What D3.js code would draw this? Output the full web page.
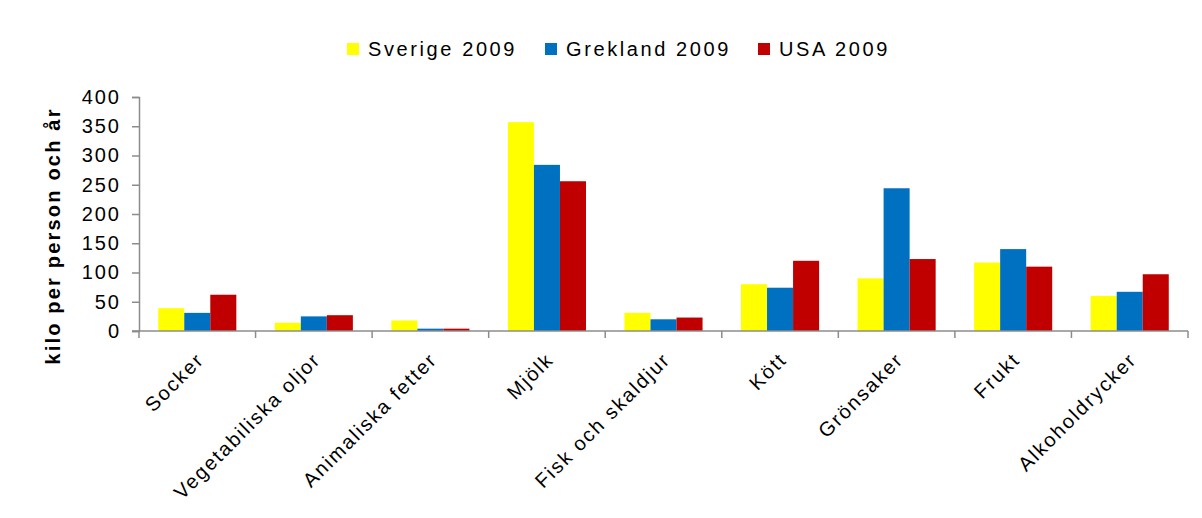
<!DOCTYPE html>
<html><head><meta charset="utf-8">
<script src="https://cdn.jsdelivr.net/npm/d3@7"></script>
<style>
body{margin:0;background:#fff;}
text{font-family:"Liberation Sans",Arial,sans-serif;fill:#000;}
</style></head>
<body>
<svg id="c" width="1202" height="518"></svg>
<script>
const categories = ["Socker","Vegetabiliska oljor","Animaliska fetter","Mjölk","Fisk och skaldjur","Kött","Grönsaker","Frukt","Alkoholdrycker"];
const seriesNames = ["Sverige 2009","Grekland 2009","USA 2009"];
const sverige = [39, 14, 18, 357, 31, 80, 90, 117, 60];
const grekland = [31, 25, 4, 284, 20, 74, 244, 140, 67];
const usa = [62, 27, 4, 256, 23, 120, 123, 110, 97];
const colors = ["#FFFF00","#0070C0","#C00000"];
const yTicks = [0,50,100,150,200,250,300,350,400];
const yTitle = "kilo per person och år";

(function(){
const seriesValues = [sverige, grekland, usa];
const svg = d3.select("#c");
const pLeft = 139, pRight = 1188, pTop = 97, pBottom = 331;

const x = d3.scaleBand().domain(categories).range([pLeft, pRight]).paddingInner(0.33).paddingOuter(0.165);
const x0 = d3.scaleBand().domain(categories).range([pLeft, pRight]);
const xs = d3.scaleBand().domain(seriesNames).range([0, x.bandwidth()]);
const y = d3.scaleLinear().domain([0, 400]).range([pBottom, pTop]);

const axisColor = "#8c8c8c";

categories.forEach((c, i) => {
  seriesNames.forEach((s, j) => {
    svg.append("rect")
      .attr("x", x(c) + xs(s))
      .attr("y", y(seriesValues[j][i]))
      .attr("width", xs.bandwidth())
      .attr("height", y(0) - y(seriesValues[j][i]))
      .attr("fill", colors[j]);
  });
});

const yAxis = svg.append("g").attr("transform", `translate(${pLeft},0)`)
  .call(d3.axisLeft(y).tickValues(yTicks).tickSize(7).tickPadding(11));
yAxis.select(".domain").attr("stroke", axisColor).attr("stroke-width", 1.5);
yAxis.selectAll(".tick line").attr("stroke", axisColor).attr("stroke-width", 1.5);
yAxis.selectAll(".tick text").attr("font-size", 20).attr("font-family", "Liberation Sans, Arial, sans-serif").attr("fill", "#000").attr("letter-spacing", "2px");

const xg = svg.append("g");
xg.append("line").attr("x1", pLeft - 7).attr("x2", pRight).attr("y1", pBottom).attr("y2", pBottom)
  .attr("stroke", axisColor).attr("stroke-width", 1.5);
const bounds = categories.map(c => x0(c)).concat([pRight]);
xg.selectAll("line.t").data(bounds).join("line").attr("class", "t")
  .attr("x1", d => d).attr("x2", d => d).attr("y1", pBottom).attr("y2", pBottom + 7)
  .attr("stroke", axisColor).attr("stroke-width", 1.5);

xg.selectAll("text.xl").data(categories).join("text").attr("class", "xl")
  .attr("transform", d => `translate(${x0(d) + x0.bandwidth() / 2 + 8},${pBottom + 30}) rotate(-45)`)
  .attr("text-anchor", "end")
  .attr("font-size", 20)
  .attr("letter-spacing", "1.9px")
  .text(d => d);

svg.append("text")
  .attr("transform", `translate(60,236) rotate(-90)`)
  .attr("text-anchor", "middle")
  .attr("font-size", 20)
  .attr("font-weight", "bold")
  .attr("letter-spacing", "2.2px")
  .text(yTitle);

const legendX = [347, 545, 758];
const lg = svg.append("g");
seriesNames.forEach((s, j) => {
  lg.append("rect").attr("x", legendX[j]).attr("y", 43).attr("width", 12).attr("height", 12).attr("fill", colors[j]);
  lg.append("text").attr("x", legendX[j] + 21).attr("y", 56).attr("font-size", 20).attr("letter-spacing", "2.6px").text(s);
});
})();
</script>
</body></html>
